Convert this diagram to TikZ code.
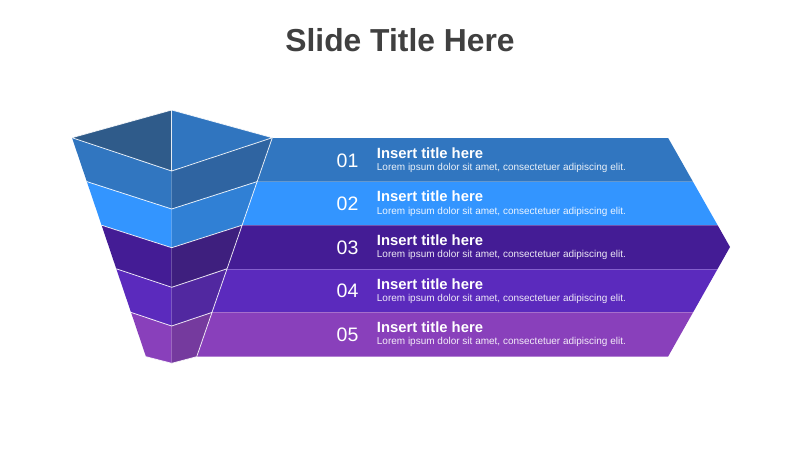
\documentclass[tikz,border=0pt]{standalone}
\usepackage{fontspec}
\setmainfont{Liberation Sans}
\definecolor{titlegray}{HTML}{404040}
\definecolor{topL}{HTML}{2F5B8A}
\definecolor{topR}{HTML}{3075BF}
\definecolor{bA}{HTML}{3176C0}
\definecolor{bB}{HTML}{3395FF}
\definecolor{bC}{HTML}{441C95}
\definecolor{bD}{HTML}{5B2ABD}
\definecolor{bE}{HTML}{8940BB}
\definecolor{rA}{HTML}{2F64A1}
\definecolor{rB}{HTML}{3080D5}
\definecolor{rC}{HTML}{3E1F7E}
\definecolor{rD}{HTML}{5128A0}
\definecolor{rE}{HTML}{753A9E}
\begin{document}
\begin{tikzpicture}[x=1pt,y=-1pt,
  edge/.style={draw=white, draw opacity=0.85, line width=0.8pt, line join=round},
  sep/.style={draw=white, draw opacity=0.25, line width=0.6pt},
  num/.style={anchor=base west, text=white, font=\fontsize{19.5}{20}\selectfont, inner sep=0pt},
  ttl/.style={anchor=base west, text=white, font=\fontsize{14.8}{16}\selectfont\bfseries, inner sep=0pt},
  desc/.style={anchor=base west, text=white, text opacity=0.9, font=\fontsize{10}{12}\selectfont, inner sep=0pt}]
\useasboundingbox (0,0) rectangle (800,450);
\fill[white] (0,0) rectangle (800,450);

% title
\node[anchor=base, text=titlegray, font=\fontsize{31.8}{34}\selectfont\bfseries, inner sep=0pt] (title) at (400,51.7) {Slide Title Here};

% coordinates of the funnel
\coordinate (T) at (171.7,110);
\coordinate (L0) at (72,137.7);   \coordinate (C0) at (171.7,171);   \coordinate (R0) at (272.3,137.7);
\coordinate (L1) at (86.83,181.6);  \coordinate (C1) at (171.7,209);   \coordinate (R1) at (257.15,181.6);
\coordinate (L2) at (101.57,225.2); \coordinate (C2) at (171.7,247.7); \coordinate (R2) at (242.10,225.2);
\coordinate (L3) at (116.30,268.8); \coordinate (C3) at (171.7,287.3); \coordinate (R3) at (227.04,268.8);
\coordinate (L4) at (131.03,312.4); \coordinate (C4) at (171.7,326);   \coordinate (R4) at (211.99,312.4);
\coordinate (L5) at (146,356.7);    \coordinate (C5) at (171.7,363.3); \coordinate (R5) at (196.70,356.7);

% bands
\begin{scope}
\clip (R0) -- (668,137.7) -- (730,247) -- (668,356.7) -- (R5) -- cycle;
\fill[bA] (180,137.7) rectangle (740,181.6);
\fill[bB] (180,181.6) rectangle (740,225.2);
\fill[bC] (180,225.2) rectangle (740,268.8);
\fill[bD] (180,268.8) rectangle (740,312.4);
\fill[bE] (180,312.4) rectangle (740,356.7);
\draw[sep] (R0) -- (668,137.7);
\draw[sep] (R1) -- (700,181.6);
\draw[sep] (R2) -- (720,225.2);
\draw[sep] (R3) -- (720,268.8);
\draw[sep] (R4) -- (700,312.4);
\end{scope}

% funnel faces
\fill[topL] (L0) -- (T) -- (C0) -- cycle;
\fill[topR] (T) -- (R0) -- (C0) -- cycle;
\fill[bA] (L0) -- (C0) -- (C1) -- (L1) -- cycle;
\fill[rA] (C0) -- (R0) -- (R1) -- (C1) -- cycle;
\fill[bB] (L1) -- (C1) -- (C2) -- (L2) -- cycle;
\fill[rB] (C1) -- (R1) -- (R2) -- (C2) -- cycle;
\fill[bC] (L2) -- (C2) -- (C3) -- (L3) -- cycle;
\fill[rC] (C2) -- (R2) -- (R3) -- (C3) -- cycle;
\fill[bD] (L3) -- (C3) -- (C4) -- (L4) -- cycle;
\fill[rD] (C3) -- (R3) -- (R4) -- (C4) -- cycle;
\fill[bE] (L4) -- (C4) -- (C5) -- (L5) -- cycle;
\fill[rE] (C4) -- (R4) -- (R5) -- (C5) -- cycle;

% funnel edges
\draw[edge] (L0) -- (T) -- (R0) -- (C0) -- cycle;
\draw[edge] (T) -- (C0);
\draw[edge] (L1) -- (C1) -- (R1);
\draw[edge] (L2) -- (C2) -- (R2);
\draw[edge] (L3) -- (C3) -- (R3);
\draw[edge] (L4) -- (C4) -- (R4);
\draw[edge] (L5) -- (C5) -- (R5);
\draw[edge] (R0) -- (R5);

% texts
\node[num] (n1) at (336.5,167.0) {01};
\node[ttl] (t1) at (376.7,158.3) {Insert title here};
\node[desc] (d1) at (376.7,170.5) {Lorem ipsum dolor sit amet, consectetuer adipiscing elit.};
\node[num] (n2) at (336.5,210.6) {02};
\node[ttl] (t2) at (376.7,201.9) {Insert title here};
\node[desc] (d2) at (376.7,214.1) {Lorem ipsum dolor sit amet, consectetuer adipiscing elit.};
\node[num] (n3) at (336.5,254.2) {03};
\node[ttl] (t3) at (376.7,245.5) {Insert title here};
\node[desc] (d3) at (376.7,257.7) {Lorem ipsum dolor sit amet, consectetuer adipiscing elit.};
\node[num] (n4) at (336.5,297.8) {04};
\node[ttl] (t4) at (376.7,289.1) {Insert title here};
\node[desc] (d4) at (376.7,301.3) {Lorem ipsum dolor sit amet, consectetuer adipiscing elit.};
\node[num] (n5) at (336.5,341.4) {05};
\node[ttl] (t5) at (376.7,332.7) {Insert title here};
\node[desc] (d5) at (376.7,344.9) {Lorem ipsum dolor sit amet, consectetuer adipiscing elit.};
\end{tikzpicture}
\end{document}
